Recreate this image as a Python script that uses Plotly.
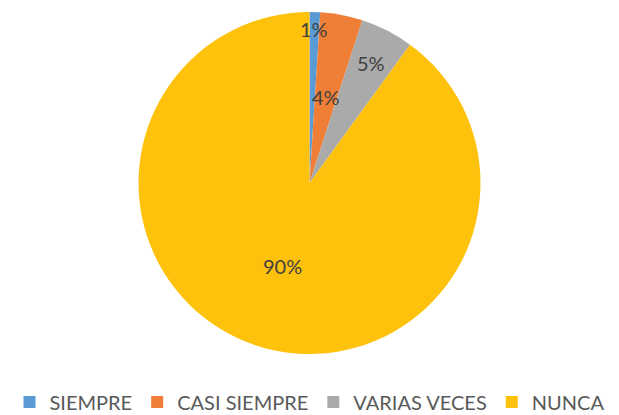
import math
import plotly.graph_objects as go

categories = ["SIEMPRE", "CASI SIEMPRE", "VARIAS VECES", "NUNCA"]
values = [1, 4, 5, 90]
labels_text = ["1%", "4%", "5%", "90%"]

colors = ["#5B9BD5", "#EF7F36", "#AAAAAA", "#FEC20C"]
label_radius = [0.90, 0.51, 0.79, 0.51]   # fraction of pie radius where label sits

W, H = 619, 415
M_L, M_R, M_T, M_B = 0, 0, 12, 61
plot_w = W - M_L - M_R
plot_h = H - M_T - M_B

fig = go.Figure(go.Pie(
    labels=categories,
    values=values,
    sort=False,
    direction="clockwise",
    rotation=0,
    marker=dict(colors=colors, line=dict(width=0)),
    textinfo="none",
    hoverinfo="label+percent",
    domain=dict(x=[0, 1], y=[0, 1]),
))

# data labels placed at the mid-angle of each slice
total = sum(values)
r_px = min(plot_w, plot_h) / 2
cum = 0
annotations = []
for v, t, rf in zip(values, labels_text, label_radius):
    mid = (cum + v / 2) / total * 2 * math.pi
    cum += v
    dx = rf * r_px * math.sin(mid)
    dy = rf * r_px * math.cos(mid)
    annotations.append(dict(
        x=0.5 + dx / plot_w, y=0.5 + dy / plot_h,
        xref="paper", yref="paper",
        text=t, showarrow=False,
        xanchor="center", yanchor="middle",
        font=dict(family="Lato", size=20, color="#404040"),
    ))

fig.update_layout(
    width=W, height=H,
    margin=dict(l=M_L, r=M_R, t=M_T, b=M_B, autoexpand=False),
    paper_bgcolor="white",
    plot_bgcolor="white",
    annotations=annotations,
    showlegend=True,
    legend=dict(
        orientation="h",
        x=0.5, xanchor="center", xref="container",
        y=(H - 402) / H, yanchor="middle", yref="container",
        font=dict(family="Lato", size=20, color="#595959"),
        traceorder="normal",
        tracegroupgap=0,
    ),
)

fig.write_html(
    "out.html",
    config={"displayModeBar": False},
    post_script="document.body.style.margin='0';",
)
